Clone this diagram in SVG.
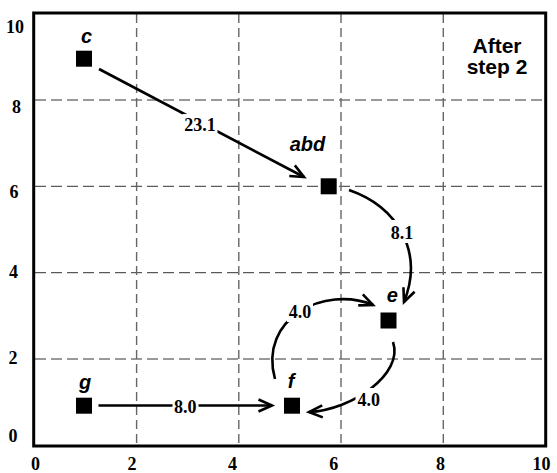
<svg xmlns="http://www.w3.org/2000/svg" width="557" height="473" viewBox="0 0 557 473">
<style>
.gh{stroke:#333;stroke-width:1;stroke-dasharray:11 5;fill:none}
.gv{stroke:#666;stroke-width:1.4;stroke-dasharray:9 5;fill:none}
.ax{font-family:"Liberation Serif","Times New Roman",serif;font-weight:bold;font-size:18px;fill:#000;text-anchor:middle}
.nl{font-family:"Liberation Sans",Arial,sans-serif;font-weight:bold;font-style:italic;font-size:20px;fill:#000;text-anchor:middle}
.el{font-family:"Liberation Serif","Times New Roman",serif;font-weight:bold;font-size:18px;fill:#000;text-anchor:middle}
.bg{fill:#fff}
.sq{fill:#000}
.ed{stroke:#000;stroke-width:2.6;fill:none;marker-end:url(#arr)}
.ttl{font-family:"Liberation Sans",Arial,sans-serif;font-weight:bold;font-size:21px;fill:#000;text-anchor:middle}
</style>
<defs>
<marker id="arr" markerUnits="userSpaceOnUse" viewBox="0 0 16 14" refX="14.5" refY="7" markerWidth="16" markerHeight="14" orient="auto" overflow="visible">
<path d="M1,1 L14.5,7 L1,13" fill="none" stroke="#000" stroke-width="2.6" stroke-linejoin="miter"/>
</marker>
</defs>
<rect width="557" height="473" fill="#fff"/>
<g id="grid">
<line class="gh" x1="35" y1="100" x2="545" y2="100"/>
<line class="gh" x1="35" y1="186.3" x2="545" y2="186.3"/>
<line class="gh" x1="35" y1="272.7" x2="545" y2="272.7"/>
<line class="gh" x1="35" y1="359" x2="545" y2="359"/>
<line class="gv" x1="136.6" y1="14" x2="136.6" y2="445"/>
<line class="gv" x1="238.8" y1="14" x2="238.8" y2="445"/>
<line class="gv" x1="341" y1="14" x2="341" y2="445"/>
<line class="gv" x1="443.3" y1="14" x2="443.3" y2="445"/>
</g>
<rect id="frame" x="33.7" y="13" width="512" height="433" fill="none" stroke="#000" stroke-width="3"/>
<g id="axes">
<text class="ax" x="15" y="32.7">10</text>
<text class="ax" x="16.5" y="113.3">8</text>
<text class="ax" x="14" y="197.7">6</text>
<text class="ax" x="13.5" y="278.3">4</text>
<text class="ax" x="13" y="364.3">2</text>
<text class="ax" x="13" y="442.3">0</text>
<text class="ax" x="35.5" y="469.5">0</text>
<text class="ax" x="132" y="469.5">2</text>
<text class="ax" x="232.5" y="469.5">4</text>
<text class="ax" x="333.7" y="469.5">6</text>
<text class="ax" x="440.5" y="469.5">8</text>
<text class="ax" x="541.5" y="469.5">10</text>
</g>
<g id="title">
<text class="ttl" x="497" y="52.7">After</text>
<text class="ttl" x="497" y="73.5">step 2</text>
</g>
<g id="connectors">
<path class="ed" d="M99,69 L304,177"/>
<path class="ed" d="M349,190 C398,207 424,252 404,302"/>
<path class="ed" d="M393,342 C404,374 352,410 309,412"/>
<path class="ed" d="M275,379 C258,318 325,285 373,305"/>
<path class="ed" d="M98.5,405.5 L272,405.5"/>
<rect class="bg" x="182.5" y="114" width="35" height="21"/>
<text class="el" x="200" y="131">23.1</text>
<rect class="bg" x="390" y="220" width="24" height="23"/>
<text class="el" x="402" y="239">8.1</text>
<rect class="bg" x="287" y="302" width="26" height="20"/>
<text class="el" x="300" y="318.3">4.0</text>
<rect class="bg" x="355.5" y="388" width="26" height="22"/>
<text class="el" x="368.7" y="406">4.0</text>
<rect class="bg" x="172.5" y="396" width="26" height="20"/>
<text class="el" x="185.3" y="412.7">8.0</text>
</g>
<g id="node-c">
<rect class="sq" x="76" y="50.7" width="16" height="16"/>
<text class="nl" x="86.5" y="42.7">c</text>
</g>
<g id="node-abd">
<rect class="sq" x="320.7" y="178.3" width="16" height="16"/>
<text class="nl" x="307.5" y="150.7">abd</text>
</g>
<g id="node-e">
<rect class="sq" x="380.5" y="312.5" width="16" height="16"/>
<text class="nl" x="392.3" y="301.5">e</text>
</g>
<g id="node-f">
<rect class="sq" x="284" y="397.7" width="16" height="16"/>
<text class="nl" x="291" y="388.3">f</text>
</g>
<g id="node-g">
<rect class="sq" x="76" y="397.7" width="16" height="16"/>
<text class="nl" x="85" y="388.5">g</text>
</g>
</svg>
